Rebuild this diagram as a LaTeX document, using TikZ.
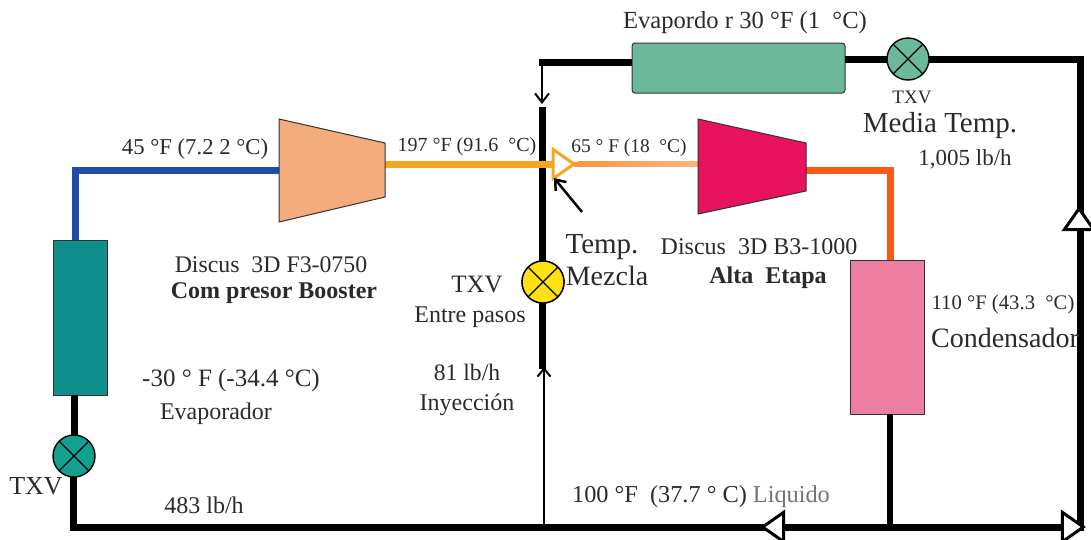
\documentclass[tikz,border=0pt]{standalone}
\usepackage{fontspec}
\setmainfont{Liberation Serif}
\usetikzlibrary{arrows.meta,shapes.geometric}
\definecolor{inkc}{HTML}{2A2A2A}
\definecolor{tealbox}{HTML}{0E8F8C}
\definecolor{tealvalve}{HTML}{12A090}
\definecolor{greenbox}{HTML}{6CB89A}
\definecolor{pinkbox}{HTML}{EC7EA1}
\definecolor{magentac}{HTML}{E8125F}
\definecolor{peachc}{HTML}{F4AC7C}
\definecolor{bluepipe}{HTML}{1F4EA8}
\definecolor{orangepipe}{HTML}{F7A51E}
\definecolor{redpipe}{HTML}{FB5A14}
\definecolor{yellowv}{HTML}{FFE012}
\definecolor{mixA}{HTML}{F9963C}
\definecolor{mixB}{HTML}{FFB57C}
\tikzset{
  lbl/.style={text=inkc,inner sep=0pt,outer sep=0pt,yshift=-2pt,font=\fontsize{#1}{#1}\selectfont},
  blbl/.style={text=inkc,inner sep=0pt,outer sep=0pt,yshift=-2pt,font=\fontsize{#1}{#1}\selectfont\bfseries},
  unit/.style={draw=black!80,line width=1pt,inner sep=0pt,outer sep=0pt},
  valve/.style={circle,draw=black,line width=1.4pt,fill=#1,minimum size=42pt,inner sep=0pt,outer sep=0pt,
    path picture={\draw[line width=1.3pt] (path picture bounding box.north west)--(path picture bounding box.south east)
      (path picture bounding box.north east)--(path picture bounding box.south west);}},
  pipe/.style={line width=7pt,black},
  thinpipe/.style={line width=2pt,black},
  opentip/.style={isosceles triangle,isosceles triangle apex angle=70,draw=#1,fill=white,line width=3pt,
    minimum height=21pt,minimum width=24pt,inner sep=0pt,outer sep=0pt},
}
\begin{document}
\begin{tikzpicture}[x=1pt,y=-1pt]
\useasboundingbox (0,0) rectangle (1091,539);
% corner points
\coordinate (c1) at (75,170);
\coordinate (c2) at (73,527);
\coordinate (c3) at (1080,527);
\coordinate (c4) at (1080,59);
\coordinate (c5) at (542,62);
\coordinate (c5b) at (538.5,62);
\coordinate (c6) at (890,170);
\coordinate (t1) at (544,527);
\coordinate (t2) at (890,527);
\coordinate (m1) at (542,104);
\coordinate (m1b) at (542,107);
\coordinate (m2) at (544,367);
\coordinate (m3) at (542,369);
% units
\node[unit,fill=tealbox,minimum width=54pt,minimum height=155pt] (evap) at (80,317.5) {};
\node[unit,fill=greenbox,rounded corners=3pt,minimum width=213pt,minimum height=50pt] (mevap) at (738.5,68) {};
\node[unit,fill=pinkbox,minimum width=74pt,minimum height=154pt] (cond) at (887,337) {};
\node[valve=yellowv] (v3) at (543,282) {};
% compressors
\coordinate (b1) at (279,119); \coordinate (b2) at (385,143); \coordinate (b3) at (385,197); \coordinate (b4) at (279,222);
\coordinate (h1) at (698,119); \coordinate (h2) at (806,143); \coordinate (h3) at (806,191); \coordinate (h4) at (698,214);
\coordinate (bin) at (279,170); \coordinate (bout) at (385,164);
\coordinate (hin) at (698,164); \coordinate (hout) at (806,170);
% pipes
\draw[pipe,bluepipe,line join=miter] (evap.north -| c1) -- (c1) -- (bin);
\draw[pipe,redpipe,line join=miter] (hout) -- (c6) -- (cond.north -| c6);
\draw[pipe,line cap=butt] (evap.south -| 74,0) -- (74,456);
\draw[pipe,line cap=butt,line join=miter] (73,456) -- (c2) -- (c3) -- (c4) -- (908,59);
\draw[pipe] (908,59) -- (mevap.east |- 908,59);
\draw[pipe,line cap=butt] (mevap.west |- c5) -- (c5b);
\draw[thinpipe,-{Straight Barb[length=9pt,width=14pt,line width=2pt]}] (c5) -- (m1);
\draw[pipe] (m1b) -- (v3.north -| m1b);
\draw[pipe] (v3.south -| m3) -- (m3);
\draw[thinpipe,-{Straight Barb[length=8pt,width=13pt,line width=2pt]}] (t1) -- (m2);
\draw[line width=6pt,black] (cond.south -| t2) -- (t2);
% valves
\node[valve=yellowv] at (v3) {};
\node[valve=tealvalve] (v1) at (74,456) {};
\node[valve=greenbox] (v2) at (908,59) {};
% flow triangles
\draw[line width=7pt,orangepipe] (bout) -- (556,164);
\node[opentip=orangepipe,anchor=west] (tri) at (553,164) {};
\draw[line width=5pt,mixA] (tri.apex) -- (hin);
\shade[left color=mixA,right color=mixB] (578,161.5) rectangle (698,166.5);
\node[opentip=black,shape border rotate=180] (a1) at (776,527) {};
\node[opentip=black] (a2) at (1070,527) {};
\node[opentip=black,shape border rotate=90] (a3) at (1079,222) {};
% compressor bodies
\draw[unit,fill=peachc] (b1)--(b2)--(b3)--(b4)--cycle;
\draw[unit,fill=magentac] (h1)--(h2)--(h3)--(h4)--cycle;
% pointer
\coordinate (pt0) at (582,212); \coordinate (pt1) at (554,178);
\draw[line width=2.5pt,black,-{Straight Barb[length=9pt,width=14pt,line width=2.5pt]}] (pt0) -- (pt1);
% labels
\node[lbl=24.6] (l1) at (745,21) {Evapordo r 30 °F (1\ \ °C)};
\node[lbl=19] (l2) at (912,95) {TXV};
\node[lbl=29] (l3) at (940,124) {Media Temp.};
\node[lbl=23] (l4) at (965,157) {1,005 lb/h};
\node[lbl=22.7] (l5) at (195,147) {45 °F (7.2 2 °C)};
\node[lbl=20] (l6) at (467,145) {197 °F (91.6\ \ °C)};
\node[lbl=19.4] (l7) at (629,146) {65 ° F (18\ \ °C)};
\node[lbl=23.8] (l8) at (271,263) {Discus\ \ 3D F3-0750};
\node[blbl=24] (l9) at (274,291) {Com presor Booster};
\node[lbl=29] (l10) at (602,245) {Temp.};
\node[lbl=28] (l11) at (607,274) {Mezcla};
\node[lbl=25] (l12) at (477,282) {TXV};
\node[lbl=24] (l13) at (470,315) {Entre pasos};
\node[lbl=23.6] (l14) at (467,370) {81 lb/h};
\node[lbl=24] (l15) at (467,403) {Inyección};
\node[lbl=24] (l16) at (759,245) {Discus\ \ 3D B3-1000};
\node[blbl=24] (l17) at (768,276) {Alta\ \ Etapa};
\node[lbl=20.7] (l18) at (1003,303) {110 °F (43.3\ \ °C)};
\node[lbl=28] (l19) at (1005,336) {Condensador};
\node[lbl=25] (l20) at (231,378) {-30 ° F (-34.4 °C)};
\node[lbl=24] (l21) at (216,412) {Evaporador};
\node[lbl=26] (l22) at (36,484) {TXV};
\node[lbl=24] (l23) at (204,503) {483 lb/h};
\node[lbl=24.3] (l24) at (701,495) {100 °F\ \ (37.7 ° C) {\color{black!55}Liquido}};
\end{tikzpicture}
\end{document}
